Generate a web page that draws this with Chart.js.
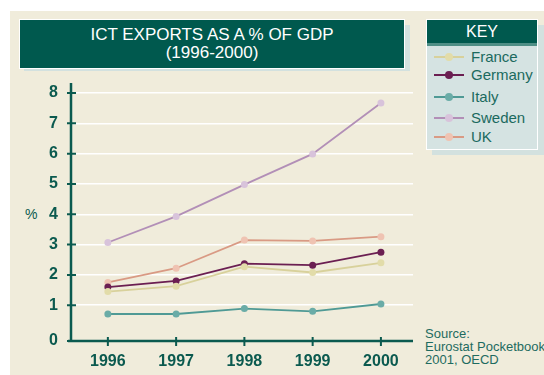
<!DOCTYPE html>
<html>
<head>
<meta charset="utf-8">
<script src="https://cdn.jsdelivr.net/npm/chart.js@4.4.1/dist/chart.umd.min.js"></script>
<style>
    body { margin: 0; background: #fff; font-family: "Liberation Sans", Arial, sans-serif; }
    #wrap { position: relative; width: 544px; height: 375px; overflow: hidden; }
    #panel { position: absolute; left: 10px; top: 11px; width: 534px; height: 364px; background: #f0ecdb; }
    canvas { position: absolute; left: 0; top: 0; }
    .shadow { position: absolute; background: #d3e1df; }
    #title { position: absolute; left: 19px; top: 19px; width: 384px; height: 42px; background: #00594e;
        border: 1px solid #fff; color: #fff; font-size: 17px; line-height: 18px; text-align: center;
        padding-top: 6px; box-sizing: content-box; }
    #key { position: absolute; left: 426px; top: 19px; width: 110px; height: 129px; background: #d5e3e2; border: 1px solid #fff; }
    #keyHead { height: 23px; background: #00594e; color: #fff; font-size: 16px; line-height: 24px; text-align: center;
        border-bottom: 3px solid #4f8f86; }
    .item { position: absolute; left: 7px; height: 16px; font-size: 15px; line-height: 16px; color: #1b6a5e; }
    .item span.l { position: absolute; left: 0; top: 7px; width: 30px; height: 2px; }
    .item span.d { position: absolute; left: 11px; top: 4px; width: 8px; height: 8px; border-radius: 50%; }
    .item span.t { position: absolute; left: 37px; top: 0; white-space: nowrap; }
    #pct { position: absolute; left: 25px; top: 206px; font-size: 14px; color: #0b5a4f; }
    #source { position: absolute; left: 425px; top: 327px; font-size: 13px; line-height: 13px; color: #1e6b60; white-space: nowrap; }
</style>
</head>
<body>
<div id="wrap">
    <div id="panel"></div>
    <div class="shadow" style="left:24px; top:25px; width:386px; height:46px;"></div>
    <div id="title">ICT EXPORTS AS A % OF GDP<br>(1996-2000)</div>
    <div class="shadow" style="left:432px; top:25px; width:112px; height:130px;"></div>
    <div id="key"><div id="keyHead">KEY</div></div>
    <div id="pct">%</div>
    <div id="source">Source:<br>Eurostat Pocketbook<br>2001, OECD</div>
    <canvas id="chart" width="544" height="375"></canvas>
</div>
<script>
// données
const years = [1996, 1997, 1998, 1999, 2000];
const countries = ['France', 'Germany', 'Italy', 'Sweden', 'UK'];
const france = [1.45, 1.63, 2.27, 2.08, 2.40];
const germany = [1.60, 1.80, 2.37, 2.32, 2.75];
const italy = [0.71, 0.71, 0.89, 0.80, 1.04];
const sweden = [3.07, 3.93, 4.98, 5.99, 7.67];
const uk = [1.75, 2.22, 3.15, 3.12, 3.26];
const yTickLabels = [0, 1, 2, 3, 4, 5, 6, 7, 8];

const seriesValues = [france, germany, italy, sweden, uk];
const lineColors = ['#d8d19b', '#6b1f52', '#4f9a95', '#b28fb7', '#d99a84'];
const pointColors = ['#e2dca9', '#6b1f52', '#6aaca7', '#d8c3db', '#efc3b2'];
const AXIS_GREEN = '#0b5a4f';
const Y_MIN = -0.18;

// la légende (KEY) est construite à partir des mêmes tableaux
const key = document.getElementById('key');
const rowTops = [29, 47, 69, 90, 109];
countries.forEach((name, i) => {
    const row = document.createElement('div');
    row.className = 'item';
    row.style.top = rowTops[i] + 'px';
    row.innerHTML = '<span class="l" style="background:' + lineColors[i] + '"></span>' +
        '<span class="d" style="background:' + pointColors[i] + '"></span>' +
        '<span class="t">' + name + '</span>';
    key.appendChild(row);
});

// axes verts avec petites graduations qui traversent l'axe
const axesPlugin = {
    id: 'axesPlugin',
    afterDraw(chart) {
        const { ctx, chartArea } = chart;
        const xs = chart.scales.x;
        const ys = chart.scales.y;
        const y0 = ys.getPixelForValue(ys.min);
        ctx.save();
        ctx.strokeStyle = AXIS_GREEN;
        ctx.lineWidth = 2.5;
        ctx.beginPath();
        ctx.moveTo(chartArea.left, chartArea.top);
        ctx.lineTo(chartArea.left, y0 + 1);
        ctx.moveTo(chartArea.left - 3, y0);
        ctx.lineTo(chartArea.right, y0);
        ctx.stroke();
        ctx.lineWidth = 2;
        ctx.beginPath();
        ys.ticks.forEach(t => {
            const p = ys.getPixelForValue(t.value);
            ctx.moveTo(chartArea.left - 4, p);
            ctx.lineTo(chartArea.left + 5, p);
        });
        xs.ticks.forEach(t => {
            const p = xs.getPixelForValue(t.value);
            ctx.moveTo(p, y0 - 4);
            ctx.lineTo(p, y0 + 5);
        });
        ctx.stroke();
        ctx.restore();
    }
};

new Chart(document.getElementById('chart').getContext('2d'), {
    type: 'line',
    data: {
        datasets: countries.map((name, i) => ({
            label: name,
            data: years.map((yr, j) => ({ x: yr, y: seriesValues[i][j] })),
            borderColor: lineColors[i],
            backgroundColor: pointColors[i],
            pointBackgroundColor: pointColors[i],
            pointBorderWidth: 0,
            pointRadius: 3.5,
            borderWidth: 1.8,
            tension: 0,
            fill: false
        }))
    },
    options: {
        responsive: false,
        animation: false,
        devicePixelRatio: 1,
        layout: { padding: { top: 83, right: 131, bottom: 0, left: 0 } },
        plugins: {
            legend: { display: false },
            title: { display: false },
            tooltip: { enabled: false }
        },
        scales: {
            x: {
                type: 'linear',
                min: 1995.46,
                max: 2000.47,
                afterBuildTicks: s => { s.ticks = years.map(v => ({ value: v })); },
                afterFit: s => { s.height = 34; },
                grid: { display: false, drawTicks: false },
                border: { display: false },
                ticks: {
                    padding: 11,
                    color: AXIS_GREEN,
                    font: { family: '"Liberation Sans", Arial, sans-serif', size: 16, weight: 'bold' },
                    callback: v => String(v)
                }
            },
            y: {
                type: 'linear',
                min: Y_MIN,
                max: 8.33,
                afterBuildTicks: s => {
                    s.ticks = yTickLabels.map(v => ({ value: v === 0 ? Y_MIN : v }));
                },
                afterFit: s => { s.width = 71; },
                border: { display: false },
                grid: {
                    drawTicks: false,
                    lineWidth: 1.5,
                    color: c => (c.tick && c.tick.value > 0.5 ? '#ffffff' : 'rgba(0,0,0,0)')
                },
                ticks: {
                    padding: 13,
                    color: AXIS_GREEN,
                    font: { family: '"Liberation Sans", Arial, sans-serif', size: 16, weight: 'bold' },
                    callback: v => (v < 0.5 ? '0' : String(v))
                }
            }
        }
    },
    plugins: [axesPlugin]
});
</script>
</body>
</html>
